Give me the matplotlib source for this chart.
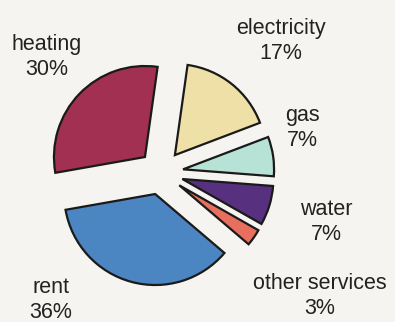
import matplotlib
matplotlib.use("Agg")
import matplotlib.pyplot as plt

# shares of housing costs, drawn clockwise from the top
labels = ["electricity", "gas", "water", "other services", "rent", "heating"]
shares = [17, 7, 7, 3, 36, 30]
colors = ["#EEE0A6", "#B7E2D6", "#57307F", "#E86F5E", "#4C86C2", "#A23052"]

# label anchor points (pixel coords, y measured from top)
label_xy = [(281, 41), (302, 128), (326, 222), (320, 296), (51, 300), (47, 57)]

W, H = 395, 322
R = 91  # pie radius in pixels
plt.rcParams["font.family"] = ["Liberation Sans", "DejaVu Sans"]

fig = plt.figure(figsize=(W / 100, H / 100), dpi=100)
fig.patch.set_facecolor("#F6F4F1")
ax = fig.add_axes([0, 0, 1, 1])
ax.set_facecolor("#F6F4F1")

# explode is an absolute offset here since data units are pixels
ax.pie(
    shares,
    colors=colors,
    explode=[0.245 * R] * len(shares),
    startangle=82,
    counterclock=False,
    radius=R,
    center=(161, H - 172.5),
    frame=True,
    wedgeprops=dict(edgecolor="#1a1a1a", linewidth=1.6),
)

for name, pct, (x, y) in zip(labels, shares, label_xy):
    ax.text(x, H - y, f"{name}\n{pct}%", ha="center", va="center",
            fontsize=15.5, color="#222222", linespacing=1.22)

ax.set_xlim(0, W)
ax.set_ylim(0, H)
ax.set_aspect("equal")
ax.axis("off")

fig.savefig("out.png", dpi=100, facecolor=fig.get_facecolor())
